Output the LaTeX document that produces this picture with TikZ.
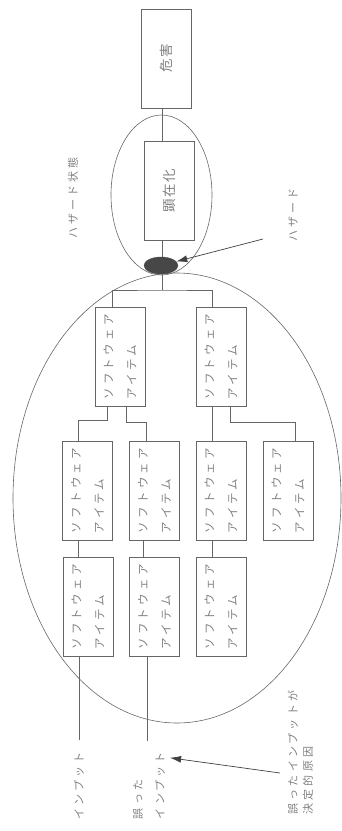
\documentclass[tikz,border=0pt]{standalone}
\usepackage{fontspec}
\newfontfamily\jp[LetterSpace=28]{Noto Sans CJK JP}
\newfontfamily\jpbig[LetterSpace=10]{Noto Sans CJK JP}
\usetikzlibrary{arrows.meta,calc,shapes.geometric}

\begin{document}
\begin{tikzpicture}[
  x=1pt, y=-1pt,
  ln/.style    = {draw=black!60, line width=0.6pt},
  box/.style   = {draw=black!60, line width=0.6pt, rotate=90, inner sep=0pt,
                  minimum width=99pt, minimum height=50pt, align=left,
                  text=black!50},
  item/.style  = {box, font=\fontsize{11.5}{23}\jp},
  big/.style   = {box, font=\fontsize{13.5}{15}\jpbig},
  lbl/.style   = {rotate=90, align=left, inner sep=2pt, text=black!50,
                  font=\fontsize{11}{22}\jp},
  blob/.style  = {ellipse, draw=black!70, fill=black!72, inner sep=0pt,
                  minimum width=34pt, minimum height=17pt},
  arr/.style   = {-{Latex[length=11pt,width=7pt]}, line width=0.7pt, black!75},
]
\useasboundingbox (0,0) rectangle (342,831);

% =========================== harm / hazard state ===========================
\node[big] (harm)  at (166,58.5)  {危害};
\node[big] (manif) at (169.5,190.5) {顕在化};
\draw[ln] (161.5,195) ellipse [x radius=50.5pt, y radius=80pt];
\node[lbl] (hs) at (73,198)  {ハザード状態};
\node[lbl] (hz) at (293,215) {ハザード};

% =========================== software items ================================
\node[item] (l1a) at (120,357)   {ソフトウェア\\アイテム};
\node[item] (l1b) at (221,357)   {ソフトウェア\\アイテム};

\node[item] (l2a) at (87.5,490.5)  {ソフトウェア\\アイテム};
\node[item] (l2b) at (154.5,490.5) {ソフトウェア\\アイテム};
\node[item] (l2c) at (221,490.5)   {ソフトウェア\\アイテム};
\node[item] (l2d) at (288,490.5)   {ソフトウェア\\アイテム};

\node[item] (l3a) at (88,607)    {ソフトウェア\\アイテム};
\node[item] (l3b) at (154.5,607) {ソフトウェア\\アイテム};
\node[item] (l3c) at (221,607)   {ソフトウェア\\アイテム};

\draw[ln] (177,498) ellipse [x radius=164pt, y radius=225pt];

% hazard blob sits on both outlines
\node[blob] (blob) at (161,265.5) {};

% =========================== inputs ========================================
\node[lbl] (in1) at (79,786)    {インプット};
\node[lbl] (bad) at (149,785.5) {誤った\\インプット};
\node[lbl, font=\fontsize{11}{15}\jp] (cause) at (300.5,752.5)
  {誤ったインプットが\\決定的原因};

% =========================== connectors ====================================
\coordinate (spine) at (162,0);
\draw[ln] (harm.west -| spine) -- (manif.east -| spine);
\draw[ln] (manif.west -| spine) -- (blob.north -| spine);

\coordinate (j0) at (162,290);
\draw[ln] (blob.south -| spine) -- (j0);
\draw[ln] ($(l1a.east)+(-8,0)$) |- (j0) -| ($(l1b.east)+(-9,0)$);

\draw[ln] ($(l1a.west)+(-13,0)$) -- ++(0,13) -| ($(l2a.east)+(-9.5,0)$);
\draw[ln] ($(l1a.west)+(6,0)$)   -- ++(0,15) -| ($(l2b.east)+(-8.5,0)$);
\draw[ln] ($(l1b.west)+(-9,0)$)  -- ($(l2c.east)+(-9,0)$);
\draw[ln] ($(l1b.west)+(9,0)$)   -- ++(0,15) -| ($(l2d.east)+(7,0)$);

\draw[ln] ($(l2a.west)+(-9.5,0)$)  -- ($(l3a.east)+(-10,0)$);
\draw[ln] ($(l2b.west)+(-11.5,0)$) -- ($(l3b.east)+(-11.5,0)$);
\draw[ln] ($(l2c.west)+(-9,0)$)    -- ($(l3c.east)+(-9,0)$);

\draw[ln, shorten >=10pt] ($(l3a.west)+(-9,0)$) -- (in1.east);
\coordinate (inb) at ($(l3b.west)+(-7.5,0)$);
\draw[ln, shorten >=9pt] (inb) -- (inb |- bad.east);

% =========================== arrows ========================================
\coordinate (hzt) at (263,239);
\draw[arr] (hzt) -- (blob);
\coordinate (cst) at (280,773);
\draw[arr] (cst) -- ($(bad.south east)+(3,8)$);

\end{tikzpicture}
\end{document}
